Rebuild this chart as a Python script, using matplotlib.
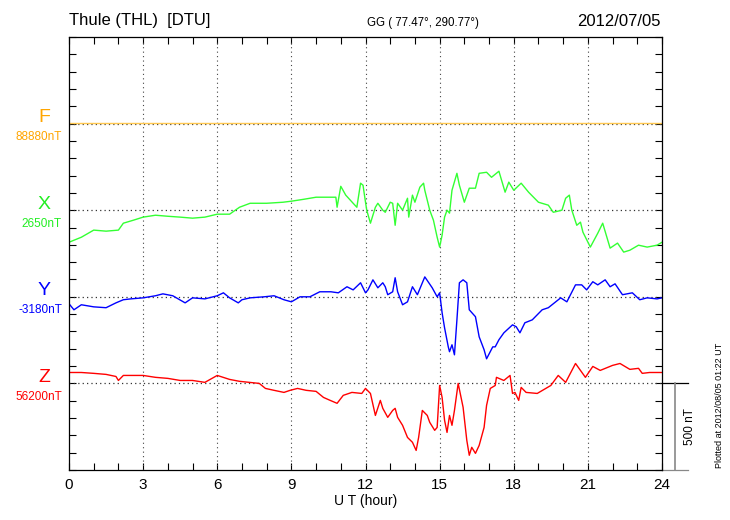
import numpy as np
import matplotlib
matplotlib.use("Agg")
import matplotlib.pyplot as plt
import matplotlib.transforms as mtransforms

plt.rcParams['font.family'] = ['Liberation Sans', 'DejaVu Sans']

# baselines (nT) for each component
F_base = 88880
X_base = 2650
Y_base = -3180
Z_base = 56200

# F - total field, essentially flat on this scale
f_t = [0, 6, 12, 18, 24]
f_v = [88885, 88885, 88885, 88885, 88885]

# X component (nT)
x_t = [0, 0.5, 1.0, 1.5, 2.0, 2.2, 2.6, 3.0, 3.5, 4.0, 4.5, 5.0, 5.5, 6.0, 6.5, 6.9,
       7.33, 8.0, 8.66, 9.0, 9.5, 10.0, 10.5, 10.8, 10.85, 11.0, 11.2, 11.5, 11.65,
       11.8, 11.9, 11.97, 12.05, 12.2, 12.4, 12.5, 12.7, 12.8, 13.0, 13.1, 13.2, 13.3,
       13.5, 13.7, 13.75, 13.9, 14.0, 14.2, 14.35, 14.4, 14.6, 14.75, 14.9, 15.0, 15.1,
       15.2, 15.3, 15.4, 15.5, 15.7, 15.8, 16.0, 16.2, 16.45, 16.6, 16.9, 17.1, 17.4,
       17.65, 17.8, 18.0, 18.3, 18.6, 19.0, 19.4, 19.6, 19.95, 20.1, 20.25, 20.35,
       20.55, 20.7, 20.8, 21.1, 21.4, 21.6, 21.9, 22.2, 22.45, 22.7, 23.05, 23.4, 23.8, 24.0]
x_v = [2465, 2494, 2535, 2529, 2535, 2575, 2592, 2610, 2621, 2615, 2610, 2604, 2610, 2627,
       2627, 2667, 2690, 2690, 2696, 2702, 2713, 2725, 2725, 2725, 2667, 2788, 2737, 2690,
       2667, 2806, 2794, 2725, 2650, 2575, 2667, 2690, 2650, 2638, 2696, 2690, 2563, 2690,
       2650, 2719, 2610, 2737, 2696, 2783, 2806, 2765, 2650, 2592, 2494, 2437, 2506, 2610,
       2650, 2633, 2765, 2863, 2794, 2696, 2777, 2777, 2863, 2869, 2840, 2875, 2754, 2812,
       2765, 2806, 2754, 2696, 2679, 2638, 2650, 2719, 2737, 2650, 2563, 2581, 2523, 2437,
       2517, 2575, 2431, 2460, 2408, 2419, 2448, 2437, 2448, 2465]

# Y component (nT)
y_t = [0, 0.2, 0.5, 1.0, 1.5, 1.9, 2.2, 2.5, 3.0, 3.5, 3.8, 4.2, 4.7, 5.0, 5.5, 6.0, 6.25,
       6.5, 6.85, 7.0, 7.33, 7.9, 8.3, 8.7, 9.0, 9.35, 9.75, 10.15, 10.6, 10.9, 11.25,
       11.5, 11.8, 12.0, 12.1, 12.3, 12.5, 12.7, 12.8, 12.9, 13.1, 13.2, 13.3, 13.5, 13.7,
       13.9, 14.1, 14.4, 14.7, 14.9, 15.0, 15.1, 15.2, 15.35, 15.4, 15.5, 15.6, 15.7, 15.8,
       15.95, 16.1, 16.2, 16.45, 16.6, 16.8, 16.9, 17.15, 17.25, 17.4, 17.6, 17.95, 18.1,
       18.25, 18.45, 18.75, 19.15, 19.4, 19.9, 20.15, 20.5, 20.75, 20.95, 21.2, 21.4, 21.7,
       21.9, 22.1, 22.4, 22.8, 23.1, 23.4, 23.8, 24.0]
y_v = [-3220, -3255, -3226, -3238, -3243, -3215, -3197, -3192, -3186, -3174, -3163, -3174,
       -3215, -3186, -3192, -3174, -3157, -3186, -3215, -3197, -3186, -3180, -3174, -3197,
       -3209, -3180, -3180, -3151, -3151, -3157, -3122, -3140, -3099, -3157, -3140, -3082,
       -3128, -3099, -3122, -3168, -3151, -3070, -3151, -3226, -3209, -3122, -3168, -3065,
       -3128, -3180, -3157, -3272, -3359, -3469, -3497, -3457, -3515, -3313, -3099, -3082,
       -3099, -3255, -3295, -3411, -3486, -3538, -3469, -3469, -3428, -3388, -3342, -3353,
       -3388, -3330, -3313, -3255, -3243, -3186, -3209, -3111, -3111, -3140, -3093, -3111,
       -3082, -3122, -3105, -3168, -3157, -3197, -3186, -3192, -3186]

# Z component (nT)
z_t = [0, 0.5, 1.0, 1.5, 1.9, 2.0, 2.2, 3.0, 3.5, 4.0, 4.5, 5.0, 5.5, 6.0, 6.5, 6.9, 7.3,
       7.7, 7.95, 8.3, 8.7, 8.95, 9.25, 9.6, 10.0, 10.3, 10.57, 10.85, 11.1, 11.45, 11.85,
       12.0, 12.2, 12.4, 12.6, 12.7, 12.9, 13.1, 13.2, 13.3, 13.5, 13.7, 13.9, 14.05, 14.15,
       14.3, 14.5, 14.6, 14.8, 14.9, 15.0, 15.1, 15.2, 15.3, 15.4, 15.5, 15.6, 15.75, 15.95,
       16.1, 16.2, 16.3, 16.45, 16.6, 16.8, 16.9, 17.05, 17.25, 17.3, 17.6, 17.85, 17.95,
       18.05, 18.2, 18.3, 18.5, 18.95, 19.5, 19.8, 20.1, 20.5, 20.7, 20.9, 21.2, 21.5, 22.0,
       22.3, 22.7, 23.05, 23.2, 23.5, 24.0]
z_v = [56263, 56263, 56258, 56252, 56240, 56217, 56246, 56246, 56235, 56229, 56217, 56217,
       56206, 56246, 56223, 56212, 56206, 56200, 56171, 56160, 56148, 56160, 56171, 56160,
       56154, 56119, 56102, 56085, 56131, 56148, 56142, 56171, 56142, 56015, 56102, 56056,
       56004, 56044, 56056, 56004, 55958, 55888, 55860, 55813, 55888, 56044, 56015, 55975,
       55929, 55946, 56188, 56119, 55987, 55917, 56015, 55958, 56044, 56200, 56062, 55871,
       55785, 55831, 55796, 55842, 55946, 56073, 56171, 56188, 56235, 56217, 56246, 56142,
       56148, 56102, 56177, 56148, 56142, 56188, 56246, 56206, 56315, 56275, 56235, 56298,
       56275, 56304, 56315, 56281, 56287, 56258, 56263, 56263]

names = ['F', 'X', 'Y', 'Z']
bases = [F_base, X_base, Y_base, Z_base]
colors = ['#FFA500', '#22EE22', '#0000FF', '#FF0000']
line_colors = ['#FFC850', '#33FF33', '#0000FF', '#FF0000']
series = [(f_t, f_v), (x_t, x_v), (y_t, y_v), (z_t, z_v)]
slot = [2000, 1500, 1000, 500]   # where each baseline sits on the 0..2500 nT axis

fig = plt.figure(figsize=(7.3, 5.2), dpi=100)
ax = fig.add_axes([69/730, 50/520, 593/730, 433/520])
ax.set_xlim(0, 24)
ax.set_ylim(0, 2500)

for xv in range(3, 24, 3):
    ax.axvline(xv, color='#444444', lw=0.8, ls=(0, (1, 3)))
for s in slot:
    ax.axhline(s, color='#333333', lw=0.9, ls=(0, (1, 2.5)))

for (t, v), b, s, lc in zip(series, bases, slot, line_colors):
    ax.plot(t, np.array(v) - b + s, color=lc, lw=1.0)

ax.set_xticks(range(0, 25, 3))
ax.set_xticks(range(0, 25), minor=True)
ax.set_yticks(range(0, 2501, 100))
ax.set_yticklabels([])
ax.tick_params(which='both', direction='in', top=True, right=True, length=5, width=0.8)
ax.tick_params(axis='x', labelsize=11, pad=6)
for sp in ax.spines.values():
    sp.set_linewidth(0.9)
ax.set_xlabel('U T (hour)', fontsize=10, labelpad=1)

# component labels on the left
lt = mtransforms.blended_transform_factory(fig.transFigure, ax.transData)
for n, b, s, c in zip(names, bases, slot, colors):
    ax.text(44/730, s + 35, n, transform=lt, color=c, fontsize=14,
            ha='center', va='center')
    ax.text(62/730, s - 78, '%dnT' % b, transform=lt, color=c, fontsize=8.5,
            ha='right', va='center')

# titles
fig.text(69/730, 1 - 21/520, 'Thule (THL)  [DTU]', fontsize=12, ha='left', va='center')
fig.text(367/730, 1 - 23/520, 'GG ( 77.47°, 290.77°)', fontsize=8.3, ha='left', va='center')
fig.text(661/730, 1 - 21/520, '2012/07/05', fontsize=12, ha='right', va='center')

# 500 nT scale bar
st = mtransforms.blended_transform_factory(ax.transAxes, ax.transData)
ax.plot([1.0, 1.044], [500, 500], color='black', lw=0.9, transform=st, clip_on=False)
ax.plot([1.0, 1.044], [0, 0], color='#888888', lw=0.9, transform=st, clip_on=False)
ax.plot([1.022, 1.022], [0, 500], color='#888888', lw=1.2, transform=st, clip_on=False)
ax.text(1.047, 250, '500 nT', transform=st, rotation=90, fontsize=8.5,
        ha='center', va='center')

fig.text(720/730, 1 - 405/520, 'Plotted at 2012/08/05 01:22 UT', rotation=90,
         fontsize=6.5, ha='center', va='center')

fig.savefig('out.png', dpi=100)
